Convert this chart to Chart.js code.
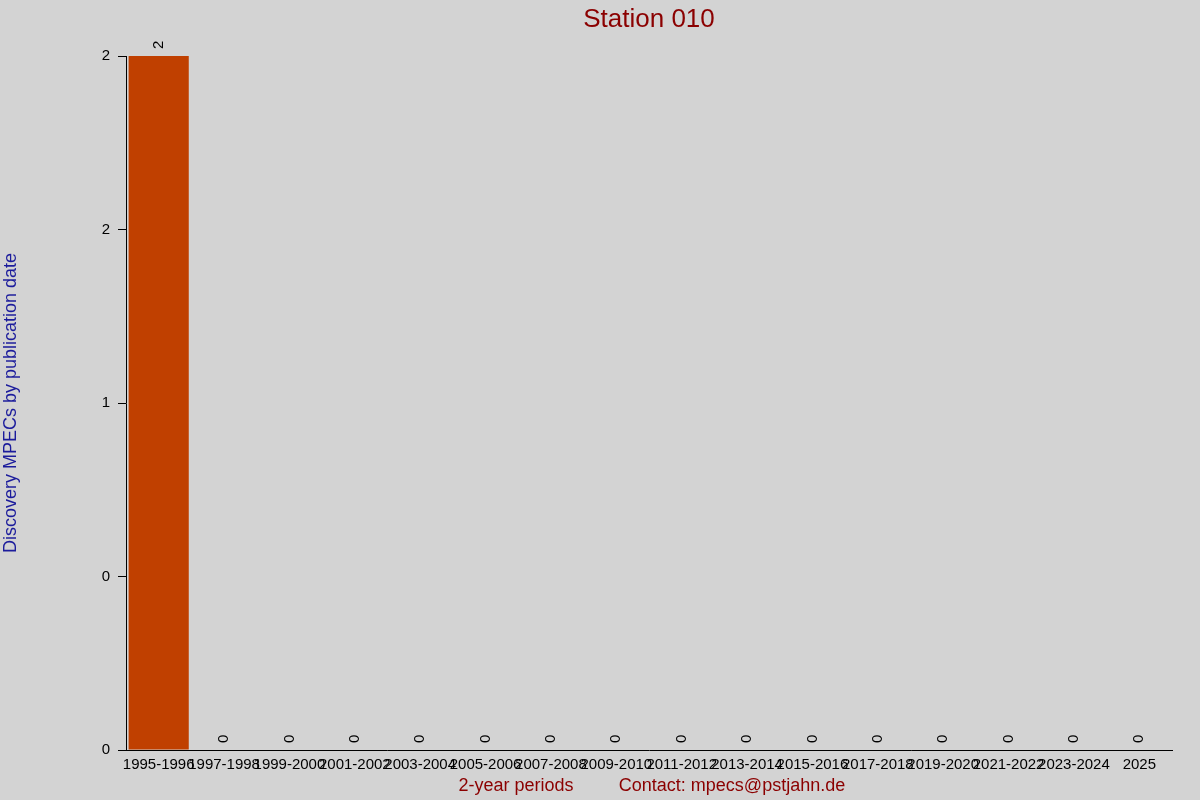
<!DOCTYPE html>
<html>
<head>
<meta charset="utf-8">
<script src="https://cdn.jsdelivr.net/npm/chart.js@4/dist/chart.umd.min.js"></script>
<style>
  html, body { margin: 0; padding: 0; background: #d3d3d3; }
  #wrap { width: 1200px; height: 800px; }
</style>
</head>
<body>
<div id="wrap"><canvas id="chart" width="1200" height="800"></canvas></div>
<script>
const periods = ['1995-1996', '1997-1998', '1999-2000', '2001-2002', '2003-2004', '2005-2006',
    '2007-2008', '2009-2010', '2011-2012', '2013-2014', '2015-2016', '2017-2018',
    '2019-2020', '2021-2022', '2023-2024', '2025'];
const mpecs = [2, 0, 0, 0, 0, 0, 0, 0, 0, 0, 0, 0, 0, 0, 0, 0];
const yTickValues = [0, 0.5, 1, 1.5, 2];
const yTickLabels = ['0', '0', '1', '2', '2'];

const chartTitle = 'Station 010';
const yTitle = 'Discovery MPECs by publication date';
const xTitle = '2-year periods';
const contact = 'Contact: mpecs@pstjahn.de';

const textPlugin = {
    id: 'texts',
    beforeDraw(chart) {
        const c = chart.ctx;
        c.save();
        c.fillStyle = '#d3d3d3';
        c.fillRect(0, 0, chart.width, chart.height);
        c.restore();
    },
    afterDraw(chart) {
        const c = chart.ctx;
        const area = chart.chartArea;
        c.save();

        c.fillStyle = '#8b0000';
        c.font = '26px Arial, "Liberation Sans", sans-serif';
        c.textAlign = 'center';
        c.textBaseline = 'alphabetic';
        c.fillText(chartTitle, (area.left + area.right) / 2, 27);

        c.font = '18px Arial, "Liberation Sans", sans-serif';
        c.textBaseline = 'middle';
        c.fillText(xTitle, 516, 786);
        c.fillText(contact, 732, 786);

        c.save();
        c.translate(11, 403);
        c.rotate(-Math.PI / 2);
        c.fillStyle = '#1c1c9c';
        c.fillText(yTitle, 0, 0);
        c.restore();

        // value labels above each bar
        const meta = chart.getDatasetMeta(0);
        c.fillStyle = '#000000';
        c.font = '15px Arial, "Liberation Sans", sans-serif';
        c.textAlign = 'left';
        c.textBaseline = 'middle';
        meta.data.forEach((bar, i) => {
            c.save();
            c.translate(bar.x, bar.y - 7);
            c.rotate(-Math.PI / 2);
            c.fillText(String(mpecs[i]), 0, 0);
            c.restore();
        });

        c.restore();
    }
};

const ctx = document.getElementById('chart').getContext('2d');

const chart = new Chart(ctx, {
    type: 'bar',
    data: {
        labels: periods,
        datasets: [{
            label: 'Discovery MPECs',
            data: mpecs,
            backgroundColor: '#c04000',
            borderWidth: 0,
            categoryPercentage: 1,
            barPercentage: 0.92
        }]
    },
    options: {
        responsive: false,
        animation: false,
        devicePixelRatio: 1,
        layout: { padding: { top: 56, right: 28, left: 0, bottom: 0 } },
        plugins: {
            legend: { display: false },
            title: { display: false },
            tooltip: { enabled: false }
        },
        scales: {
            x: {
                grid: { display: false, drawTicks: false },
                border: { display: true, color: '#000000', width: 1 },
                ticks: {
                    color: '#000000',
                    font: { family: 'Arial, "Liberation Sans", sans-serif', size: 15 },
                    maxRotation: 0,
                    minRotation: 0,
                    autoSkip: false,
                    padding: 6
                },
                afterFit(scale) { scale.height = 50; }
            },
            y: {
                min: 0,
                max: 2,
                afterBuildTicks(scale) {
                    scale.ticks = yTickValues.map(v => ({ value: v }));
                },
                grid: {
                    drawOnChartArea: false,
                    drawTicks: true,
                    tickLength: 8,
                    color: '#000000'
                },
                border: { display: true, color: '#000000', width: 1 },
                ticks: {
                    color: '#000000',
                    font: { family: 'Arial, "Liberation Sans", sans-serif', size: 15 },
                    padding: 8,
                    callback: (v, i) => yTickLabels[i]
                },
                afterFit(scale) { scale.width = 126; }
            }
        }
    },
    plugins: [textPlugin]
});
</script>
</body>
</html>
